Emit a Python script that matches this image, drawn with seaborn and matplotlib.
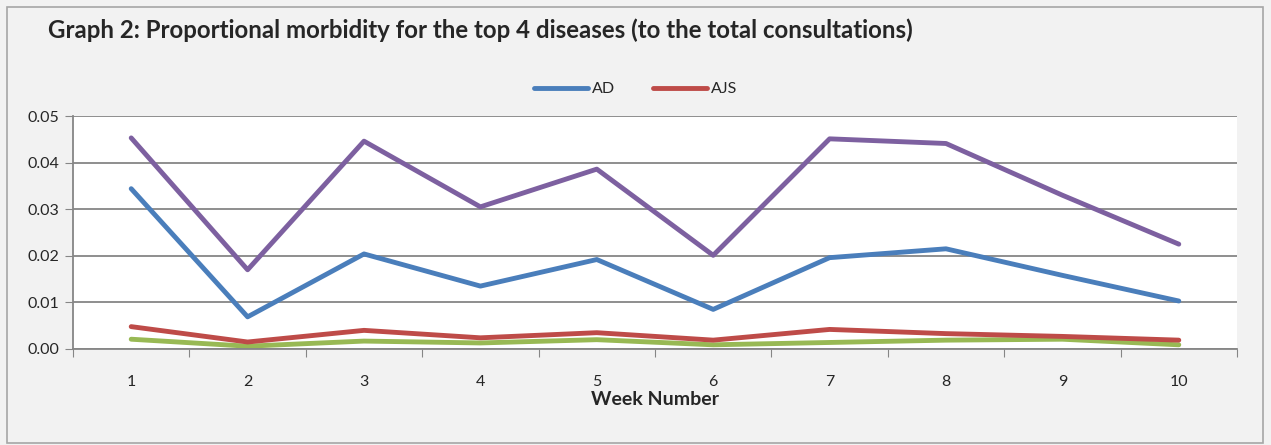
import numpy as np
import pandas as pd
import matplotlib
matplotlib.use("Agg")
import matplotlib.pyplot as plt
import seaborn as sns
from matplotlib.patches import Rectangle

weeks = [1, 2, 3, 4, 5, 6, 7, 8, 9, 10]
ad = [0.0344, 0.0069, 0.0204, 0.0135, 0.0192, 0.0085, 0.0196, 0.0215, 0.0158, 0.0103]
ajs = [0.0048, 0.0015, 0.0040, 0.0024, 0.0035, 0.0019, 0.0042, 0.0033, 0.0027, 0.0019]
green_vals = [0.0021, 0.0006, 0.0017, 0.0013, 0.0020, 0.0009, 0.0014, 0.0019, 0.0021, 0.0009]
purple_vals = [0.0453, 0.0170, 0.0446, 0.0305, 0.0386, 0.0201, 0.0451, 0.0441, 0.0330, 0.0225]
yticks = [0.00, 0.01, 0.02, 0.03, 0.04, 0.05]

# only the first two series show in the original legend
series = [("AD", ad, "#4a7ebb"),
          ("AJS", ajs, "#be4b48"),
          ("_s3", green_vals, "#98b954"),
          ("_s4", purple_vals, "#7d60a0")]

sns.set_style("white")
plt.rcParams['font.family'] = ['Lato', 'DejaVu Sans']

fig = plt.figure(figsize=(12.71, 4.45), dpi=100)
fig.patch.set_facecolor("#f2f2f2")
fig.patches.append(Rectangle((7 / 1271, 0.005), 1256 / 1271, 1 - 7 / 445 - 0.005,
                             transform=fig.transFigure, fill=False,
                             edgecolor="#a6a6a6", linewidth=1.2))

ax = fig.add_axes([73 / 1271, 96 / 445, 1164 / 1271, 233 / 445])
ax.set_facecolor("white")

# draw order: green and red under, then blue, purple
for name, vals, col in [series[2], series[1], series[0], series[3]]:
    df = pd.DataFrame({"week": weeks, "value": vals})
    sns.lineplot(data=df, x="week", y="value", color=col, linewidth=3.5,
                 label=name, ax=ax, solid_capstyle="round")

ax.set_xlim(0.5, 10.5)
ax.set_ylim(0, 0.05)
ax.set_yticks(yticks)
ax.set_yticklabels([f"{t:.2f}" for t in yticks], fontsize=11.5)
ax.set_xticks(np.arange(0.5, 11, 1))
ax.set_xticklabels([])
ax.set_xticks(weeks, minor=True)
ax.set_xticklabels([str(w) for w in weeks], minor=True, fontsize=11.5)
ax.tick_params(axis="x", which="minor", length=0, pad=19)
ax.tick_params(axis="x", which="major", length=6, color="#868686", direction="out", bottom=True)
ax.tick_params(axis="y", length=6, color="#868686", direction="out", left=True, pad=4)
ax.yaxis.grid(True, color="#868686", linewidth=1.3)
ax.set_axisbelow(True)
for s in ["top", "right"]:
    ax.spines[s].set_visible(False)
for s in ["left", "bottom"]:
    ax.spines[s].set_color("#868686")
    ax.spines[s].set_linewidth(1.3)

ax.set_xlabel("Week Number", fontsize=14, fontweight="bold", labelpad=1)
ax.set_ylabel("")

handles, labels = ax.get_legend_handles_labels()
order = [labels.index("AD"), labels.index("AJS")]
ax.legend([handles[i] for i in order], [labels[i] for i in order],
          loc="center", bbox_to_anchor=(0.5, 0.8), bbox_transform=fig.transFigure,
          ncol=2, frameon=False, fontsize=11.5, handlelength=3.4, columnspacing=2.4,
          handletextpad=0.2)

fig.text(48 / 1271, 1 - 30 / 445, "Graph 2: Proportional morbidity for the top 4 diseases (to the total consultations)",
         fontsize=17.3, fontweight="bold", va="center", ha="left")

fig.savefig("out.png", dpi=100, facecolor=fig.get_facecolor())
